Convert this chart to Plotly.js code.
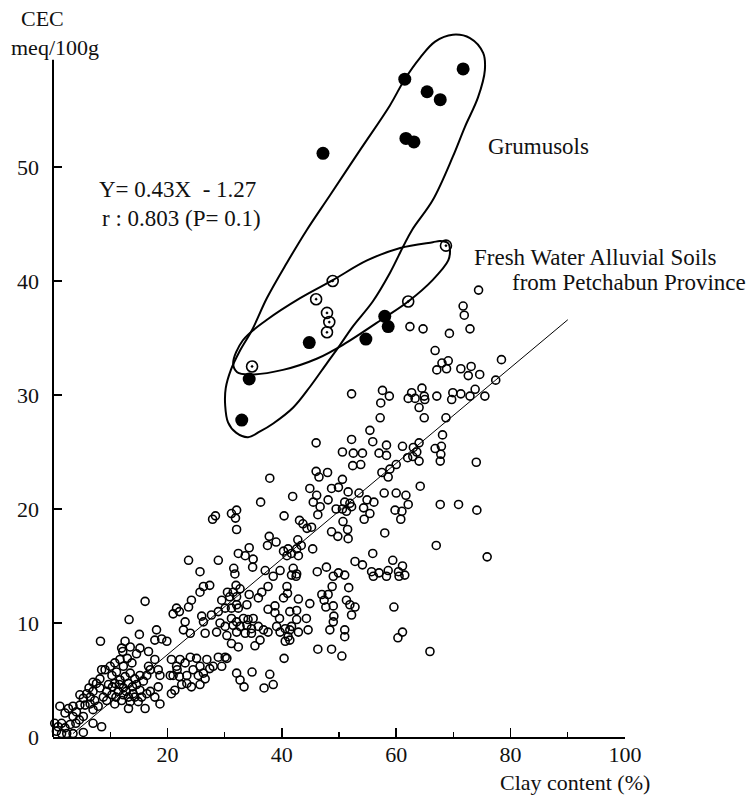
<!DOCTYPE html>
<html><head><meta charset="utf-8">
<script src="https://cdn.plot.ly/plotly-3.0.1.min.js"></script>
<style>html,body{margin:0;padding:0;background:#fff}#chart{width:748px;height:795px}</style>
</head><body><div id="chart"></div>
<script>
// General soils: [clay %, CEC meq/100g]
const openPts = [
[74.4,39.2],[71.7,37.8],[71.9,37.0],[72.9,35.8],[62.4,36.0],[64.7,35.8],[69.3,35.4],[66.8,33.9],[68.0,32.8],[69.1,33.0],
[67.1,32.2],[68.8,32.3],[71.3,32.3],[73.1,32.5],[72.6,31.7],[74.6,31.8],[78.4,33.1],[77.4,31.3],[75.5,29.9],[73.8,30.5],
[72.9,29.9],[71.3,30.1],[69.9,30.2],[69.7,29.6],[67.1,29.9],[64.5,30.6],[62.7,30.2],[62.1,29.7],[63.3,29.7],[64.9,29.9],
[65.0,29.6],[64.0,28.9],[64.9,28.0],[68.7,28.0],[68.1,26.5],[57.6,30.4],[58.8,29.9],[57.3,29.3],[57.2,28.0],[52.2,30.1],
[55.4,26.9],[52.2,26.1],[55.9,25.9],[58.3,25.6],[61.1,25.5],[63.0,25.4],[64.0,25.8],[63.6,25.0],[62.0,24.5],[62.9,24.6],
[64.0,24.2],[66.8,25.3],[67.9,25.5],[67.8,24.8],[67.7,24.2],[74.0,24.1],[46.0,25.8],[50.6,25.0],[52.5,24.9],[54.1,24.9],
[57.0,24.9],[58.3,24.7],[52.4,23.8],[53.8,23.9],[60.0,23.9],[57.5,23.2],[58.9,23.5],[58.6,22.8],[46.0,23.3],[48.0,23.2],
[50.6,22.6],[57.9,21.4],[60.0,21.4],[61.7,21.2],[64.2,22.0],[44.9,21.8],[48.7,21.8],[49.9,21.9],[53.5,21.4],[41.9,21.1],
[51.6,21.5],[46.1,21.2],[67.7,20.4],[70.9,20.4],[74.1,19.9],[75.9,15.8],[67.0,16.8],
[37.9,22.7],[36.3,20.6],[27.9,19.1],[28.4,19.4],[31.2,19.6],[32.1,19.9],[31.9,19.2],[32.1,18.2],[40.4,19.4],[43.1,19.0],
[43.7,18.7],[44.4,18.3],[45.2,18.4],[46.5,22.8],[45.5,20.6],[46.7,20.2],[46.3,19.5],[48.1,20.8],[49.5,20.0],[50.6,20.0],
[51.0,20.6],[51.9,20.5],[52.2,20.2],[51.3,19.8],[50.7,18.9],[51.5,18.2],[54.9,20.8],[56.1,20.6],[54.3,20.1],[54.4,19.1],
[55.4,19.6],[48.7,18.0],[49.8,17.6],[51.6,17.4],[62.1,20.4],[59.8,19.9],[61.0,19.8],[60.8,19.1],[58.0,17.9],
[37.8,17.6],[39.0,17.1],[37.5,16.8],[40.3,16.3],[41.1,16.5],[40.9,15.9],[41.7,16.1],[42.8,17.3],[43.4,16.8],[42.6,16.5],
[42.9,15.9],[45.4,16.5],[34.3,16.6],[32.4,16.1],[33.6,15.9],[23.7,15.5],[28.9,15.5],[35.0,15.6],[34.9,14.9],[31.6,14.8],
[31.8,14.3],[37.1,14.6],[39.7,14.6],[38.5,14.1],[42.0,14.8],[42.6,14.3],[41.7,14.2],[42.5,14.1],[46.2,14.5],[47.8,14.9],
[49.0,14.1],[49.9,14.4],[51.0,14.2],[52.8,15.4],[54.1,15.1],[55.9,16.1],[55.7,14.5],[56.0,14.1],[57.0,14.4],[58.3,14.1],
[58.6,14.6],[59.4,15.5],[61.1,15.0],[60.4,14.5],[60.5,14.1],[61.5,14.2],[25.7,14.5],[26.3,13.2],[27.4,13.3],[25.7,12.7],
[32.0,13.3],[32.7,13.0],[31.5,12.7],[30.9,12.3],[32.1,12.3],[29.5,12.0],[30.5,12.7],[34.3,12.5],[35.9,12.2],[37.6,13.2],
[36.5,12.7],[40.9,13.2],[41.0,12.6],[40.3,12.2],[42.9,12.1],[47.0,12.5],[48.1,12.5],[48.8,13.2],[47.4,12.0],[51.7,13.1],
[21.6,11.3],[21.0,10.8],[22.1,11.0],[24.2,12.0],[23.7,11.4],[23.1,10.1],[22.8,9.4],[24.0,9.1],[26.0,10.6],[26.3,10.1],
[27.7,10.7],[28.9,11.0],[29.2,10.0],[28.6,9.2],[30.4,8.9],[30.1,9.7],[30.1,11.3],[26.6,9.1],
[16.1,11.9],[13.3,10.3],[8.3,8.4],[15.1,9.0],[12.6,8.4],[12.0,7.8],[12.2,7.5],[13.5,7.9],[13.0,6.9],[10.8,6.5],
[18.1,9.4],[17.8,8.5],[19.0,8.6],[19.9,8.4],[16.7,7.5],[15.2,7.8],[14.6,7.3],[17.8,6.8],[17.0,5.9],[16.4,5.4],
[18.4,5.9],[18.7,5.4],[18.4,4.4],
[8.2,5.1],[9.1,5.9],[10.3,5.4],[11.1,5.7],[11.7,5.0],[10.8,4.7],[9.7,4.6],[9.4,4.0],[10.3,3.7],[11.4,4.0],
[12.3,4.3],[13.2,4.7],[12.6,5.3],[13.5,5.6],[14.3,5.1],[14.6,4.6],[15.2,5.4],[15.8,4.9],[15.2,4.1],[14.0,3.8],
[13.2,3.5],[12.0,3.2],[10.8,2.9],[13.2,2.5],[14.9,3.1],[16.1,2.5],[16.4,3.8],[16.7,6.2],[13.8,6.5],[12.3,6.2],
[11.7,6.8],[10.0,6.2],[13.9,4.4],[12.3,3.7],[11.0,3.5],[10.4,4.4],[11.6,4.6],[12.8,4.0],[14.3,3.5],[15.5,3.5],
[13.5,3.1],[9.4,3.2],[8.8,3.5],
[1.2,2.7],[2.1,2.1],[2.7,2.5],[3.5,2.7],[4.1,2.2],[4.7,2.8],[5.3,3.4],[4.7,3.7],[5.9,3.8],[6.5,3.5],
[7.0,4.0],[6.3,4.3],[5.6,2.8],[6.5,2.9],[7.0,2.4],[5.3,1.8],[4.6,1.5],[3.5,1.8],[4.0,1.2],[7.3,3.2],
[7.9,2.7],[8.2,4.3],[7.6,4.7],[7.0,4.8],[8.5,5.9],
[0.3,1.2],[0.9,0.9],[1.5,1.2],[2.1,0.8],[0.6,0.5],[1.5,0.3],[2.4,0.3],[3.5,0.3],[5.3,0.4],[3.0,1.1],
[7.0,1.2],[8.5,0.9],
[21.0,5.4],[21.7,5.9],[22.5,4.6],[23.4,4.7],[21.3,4.1],[20.7,3.8],[24.2,4.4],[18.7,2.9],[17.8,3.5],[17.0,4.0],
[25.7,4.6],[26.3,5.6],[25.4,5.4],[26.6,5.1],[24.5,5.9],[23.4,5.4],[22.1,5.3],[20.5,5.4],[27.4,6.0],[28.0,6.2],
[29.5,6.2],[30.4,6.9],[22.2,6.8],[23.1,6.5],[21.6,6.2],[24.0,7.0],[25.1,6.9],[20.7,6.8],[25.7,6.2],[26.9,6.8],
[28.9,7.0],[30.1,7.0],
[32.1,11.6],[33.9,11.6],[31.2,11.3],[32.4,11.3],[37.6,11.2],[38.8,11.5],[38.8,10.9],[41.4,11.0],[42.6,11.1],[44.9,11.7],
[47.7,11.4],[49.0,11.5],[49.1,10.6],[49.0,10.1],[51.3,12.0],[51.9,11.6],[52.8,11.4],[52.2,10.7],[59.6,11.4],[44.3,10.4],
[42.6,10.3],[39.6,10.4],[39.1,9.7],[39.7,9.2],[40.6,9.5],[41.4,9.4],[41.7,9.7],[41.1,8.8],[40.6,8.4],[41.4,8.5],
[42.9,9.2],[44.6,9.4],[48.4,9.4],[51.0,9.4],[51.0,8.8],[60.3,8.7],[61.1,9.2],[65.9,7.5],[46.3,7.7],[48.7,7.7],
[50.5,7.1],[40.4,6.9],[31.2,10.4],[32.1,10.1],[33.3,10.4],[34.1,10.3],[35.0,10.4],[31.5,9.8],[32.7,9.7],[33.9,9.8],
[34.7,9.5],[35.9,9.7],[36.8,9.4],[37.6,9.2],[32.1,9.2],[33.6,9.1],[34.7,9.1],[36.2,8.5],[35.3,8.0],[31.2,8.2],
[32.4,7.9],[32.1,5.6],[32.7,5.0],[33.4,4.4],[34.8,5.7],[37.9,5.5],[36.9,4.3],[38.5,4.6]
];
const openX = openPts.map(p => p[0]);
const openY = openPts.map(p => p[1]);

// Grumusols (filled)
const grumX = [71.7,61.5,65.4,67.7,61.7,63.1,47.2,58.0,58.6,44.8,54.7,34.3,33.0];
const grumY = [58.6,57.7,56.6,55.9,52.5,52.2,51.2,36.9,36.0,34.6,34.9,31.4,27.8];

// Fresh Water Alluvial Soils (circled dot)
const freshX = [68.7,48.9,46.0,47.9,48.3,47.9,62.1,34.8];
const freshY = [43.1,40.0,38.4,37.2,36.4,35.5,38.2,32.5];

// Regression line Y = 0.43X - 1.27 (as drawn)
const lineX = [3.5, 90.0];
const lineY = [0.3, 36.6];

// Hand-drawn envelope around Grumusols
const grumLoopX = [69.9,72.9,75.2,75.5,74.3,72.0,69.9,66.4,62.8,61.2,58.9,55.9,52.4,50.2,47.9,44.9,42.0,38.5,36.2,34.1,32.0,30.6,30.1,30.2,31.1,32.7,34.8,37.4,40.9,44.4,48.4,53.7,58.9,61.5,64.2,66.8,69.9];
const grumLoopY = [61.6,61.3,60.0,58.5,56.1,53.5,50.9,47.1,44.5,43.0,40.7,38.2,36.0,34.4,32.8,30.7,28.9,27.5,26.8,26.3,26.7,27.6,29.1,30.6,32.2,33.9,35.7,38.5,41.6,44.5,47.5,51.5,55.4,57.7,59.6,61.0,61.6];

// Hand-drawn envelope around Fresh Water Alluvial Soils
const freshLoopX = [69.1,67.7,66.4,60.7,54.9,49.0,43.2,37.4,33.2,31.5,32.2,34.4,40.2,46.2,50.7,58.0,62.1,66.4,69.1,69.4,69.1];
const freshLoopY = [43.3,43.5,43.4,42.9,41.8,40.1,38.5,36.6,34.8,32.8,32.0,31.8,32.2,33.2,34.4,36.8,38.2,40.1,41.8,42.7,43.3];

const xTicks = [20,40,60,80,100];
const yTicks = [0,10,20,30,40,50];
const yAxisTop = 59.4;

const serif = {family:'Liberation Serif, serif', size:22, color:'#111'};
const serifAnn = {family:'Liberation Serif, serif', size:23, color:'#111'};

const traces = [
  {x:lineX, y:lineY, mode:'lines', line:{color:'#000', width:1}, hoverinfo:'skip'},
  {x:openX, y:openY, mode:'markers', cliponaxis:false,
   marker:{symbol:'circle-open', size:8, color:'#000', line:{width:1.6}}},
  {x:grumLoopX, y:grumLoopY, mode:'lines', line:{color:'#000', width:2, shape:'spline', smoothing:1}},
  {x:freshLoopX, y:freshLoopY, mode:'lines', line:{color:'#000', width:2, shape:'spline', smoothing:1}},
  {x:grumX, y:grumY, mode:'markers', marker:{symbol:'circle', size:13, color:'#000'}},
  {x:freshX, y:freshY, mode:'markers', marker:{symbol:'circle-open-dot', size:11, color:'#000', line:{width:1.6}}}
];

const layout = {
  width:748, height:795,
  margin:{l:53, r:123, t:28, b:58},
  paper_bgcolor:'#fff', plot_bgcolor:'#fff',
  showlegend:false,
  font: serif,
  xaxis:{range:[0,100], showgrid:false, zeroline:false, showline:true, linewidth:2, linecolor:'#000',
    tickmode:'array', tickvals:xTicks, ticks:'inside', ticklen:9, tickwidth:1.5, tickcolor:'#000',
    minor:{dtick:10, tick0:0, ticks:'inside', ticklen:5, tickwidth:1.2, tickcolor:'#000', showgrid:false},
    tickfont:serif, ticklabelstandoff:-3},
  yaxis:{range:[0,62.19], showgrid:false, zeroline:false, showline:false,
    tickmode:'array', tickvals:yTicks, ticks:'inside', ticklen:9, tickwidth:1.5, tickcolor:'#000',
    tickfont:serif, ticklabelstandoff:13},
  shapes:[
    {type:'line', xref:'paper', yref:'y', x0:0, x1:0, y0:0, y1:yAxisTop, line:{color:'#000', width:2}, layer:'above'}
  ],
  annotations:[
    {xref:'paper', yref:'paper', x:-0.0175, y:1.014, text:'CEC', showarrow:false, xanchor:'center', yanchor:'middle', font:serif},
    {xref:'paper', yref:'paper', x:0.0035, y:0.973, text:'meq/100g', showarrow:false, xanchor:'center', yanchor:'middle', font:serif},
    {xref:'paper', yref:'paper', x:0.778, y:-0.064, text:'Clay content (%)', showarrow:false, xanchor:'left', yanchor:'middle', font:serif},
    {xref:'x', yref:'y', x:75.7, y:51.8, text:'Grumusols', showarrow:false, xanchor:'left', yanchor:'middle', font:serifAnn},
    {xref:'x', yref:'y', x:73.3, y:42.1, text:'Fresh Water Alluvial Soils', showarrow:false, xanchor:'left', yanchor:'middle', font:serifAnn},
    {xref:'x', yref:'y', x:79.9, y:39.9, text:'from Petchabun Province', showarrow:false, xanchor:'left', yanchor:'middle', font:serifAnn},
    {xref:'x', yref:'y', x:7.7, y:48.0, text:'Y= 0.43X  - 1.27', showarrow:false, xanchor:'left', yanchor:'middle', font:serifAnn},
    {xref:'x', yref:'y', x:8.2, y:45.5, text:'r : 0.803 (P= 0.1)', showarrow:false, xanchor:'left', yanchor:'middle', font:serifAnn}
  ]
};

Plotly.newPlot('chart', traces, layout, {staticPlot:true, displayModeBar:false});
</script>
</body></html>
